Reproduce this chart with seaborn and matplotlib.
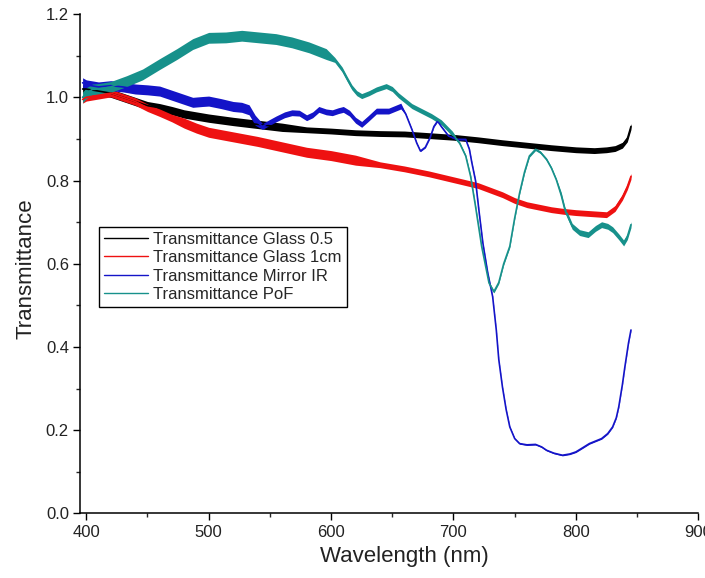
import numpy as np
import pandas as pd
import matplotlib
matplotlib.use("Agg")
import matplotlib.pyplot as plt
from matplotlib.lines import Line2D
from matplotlib.ticker import MultipleLocator
import seaborn as sns

sns.set_style("ticks")
plt.rcParams['font.family'] = ['Liberation Sans', 'DejaVu Sans']

labels = ['Transmittance Glass 0.5', 'Transmittance Glass 1cm',
          'Transmittance Mirror IR', 'Transmittance PoF']
colors = ['#000000', '#ee1111', '#1414c8', '#17918b']

# Glass 0.5 (black)
wl_glass05 = [397, 400, 410, 420, 430, 440, 450, 460, 470, 480, 490, 500, 520, 540,
              560, 580, 600, 620, 640, 660, 680, 700, 720, 740, 760, 780, 800, 815,
              825, 832, 838, 842, 845]
t_glass05 = [1.02, 1.02, 1.015, 1.01, 1.0, 0.99, 0.98, 0.975, 0.968, 0.96, 0.955, 0.95,
             0.942, 0.935, 0.928, 0.922, 0.919, 0.915, 0.913, 0.912, 0.908, 0.904, 0.898,
             0.891, 0.885, 0.879, 0.874, 0.872, 0.874, 0.877, 0.885, 0.9, 0.93]

# Glass 1cm (red)
wl_glass1 = [397, 400, 410, 420, 430, 440, 450, 460, 470, 480, 490, 500, 520, 540,
             560, 580, 600, 620, 640, 660, 680, 700, 720, 740, 750, 760, 780, 790, 800,
             815, 825, 832, 838, 842, 845]
t_glass1 = [0.995, 1.0, 1.005, 1.01, 1.0, 0.99, 0.975, 0.963, 0.95, 0.938, 0.926, 0.916,
            0.905, 0.894, 0.881, 0.868, 0.86, 0.849, 0.838, 0.828, 0.816, 0.802, 0.788,
            0.766, 0.752, 0.742, 0.73, 0.726, 0.723, 0.72, 0.718, 0.733, 0.76, 0.785, 0.81]

# Mirror IR (blue)
wl_mirror = [397, 400, 410, 420, 430, 440, 450, 460, 470, 480, 487, 495, 500, 510, 520,
             527, 533, 538, 544, 550, 555, 562, 568, 574, 580, 585, 590, 596, 601, 606,
             610, 615, 620, 625, 630, 637, 647, 652, 657, 661, 666, 670, 673, 677, 681,
             684, 687, 690, 696, 703, 710, 713, 715, 718, 721, 724, 728, 732, 735, 737,
             740, 743, 746, 750, 754, 760, 767, 772, 776, 782, 789, 795, 800, 805, 811,
             816, 821, 826, 830, 833, 835, 838, 840, 843, 845]
t_mirror = [1.035, 1.03, 1.025, 1.028, 1.025, 1.02, 1.018, 1.015, 1.005, 0.995, 0.988,
            0.99, 0.991, 0.985, 0.978, 0.976, 0.97, 0.945, 0.93, 0.94, 0.948, 0.958, 0.963,
            0.962, 0.951, 0.958, 0.971, 0.965, 0.963, 0.968, 0.971, 0.962, 0.945, 0.935,
            0.948, 0.967, 0.967, 0.973, 0.979, 0.96, 0.923, 0.89, 0.871, 0.88, 0.904, 0.93,
            0.943, 0.93, 0.907, 0.899, 0.899, 0.875, 0.843, 0.8, 0.723, 0.65, 0.578, 0.521,
            0.44, 0.37, 0.304, 0.25, 0.208, 0.18, 0.168, 0.165, 0.166, 0.16, 0.152, 0.145,
            0.14, 0.143, 0.148, 0.157, 0.168, 0.174, 0.18, 0.192, 0.208, 0.23, 0.256, 0.31,
            0.352, 0.41, 0.441]

# PoF (teal)
wl_pof = [397, 400, 405, 410, 420, 433, 446, 460, 474, 487, 500, 514, 527, 541, 555, 568,
          582, 596, 603, 609, 613, 617, 621, 625, 631, 637, 645, 650, 655, 666, 682, 690,
          699, 705, 710, 714, 718, 723, 729, 733, 737, 741, 746, 750, 754, 758, 762, 767,
          771, 776, 780, 784, 788, 791, 797, 803, 810, 816, 821, 826, 830, 835, 839, 842,
          845]
t_pof = [1.0, 1.01, 1.019, 1.02, 1.025, 1.039, 1.055, 1.08, 1.104, 1.128, 1.143, 1.144,
         1.148, 1.144, 1.14, 1.132, 1.12, 1.104, 1.09, 1.067, 1.045, 1.024, 1.01, 1.003,
         1.01, 1.019, 1.027, 1.02, 1.005, 0.979, 0.955, 0.94, 0.913, 0.89, 0.859, 0.81,
         0.738, 0.642, 0.554, 0.533, 0.555, 0.6, 0.642, 0.71, 0.77, 0.82, 0.859, 0.875,
         0.868, 0.851, 0.83, 0.802, 0.765, 0.73, 0.69, 0.675, 0.67, 0.685, 0.694, 0.69,
         0.682, 0.665, 0.65, 0.665, 0.694]

# half width of the noise band, per wavelength range (range end, half width)
noise = {
    labels[0]: [(560, 0.01), (900, 0.007)],
    labels[1]: [(470, 0.009), (620, 0.012), (900, 0.007)],
    labels[2]: [(540, 0.012), (660, 0.007), (900, 0.0015)],
    labels[3]: [(600, 0.013), (700, 0.006), (785, 0.003), (900, 0.007)],
}

series = [(labels[0], wl_glass05, t_glass05), (labels[1], wl_glass1, t_glass1),
          (labels[2], wl_mirror, t_mirror), (labels[3], wl_pof, t_pof)]

rows = []
for name, wl, vals in series:
    for w, v in zip(wl, vals):
        hw = next(h for end, h in noise[name] if w <= end)
        rows.append((name, w, v - hw))
        rows.append((name, w, v + hw))
df = pd.DataFrame(rows, columns=['series', 'wavelength', 'T'])

fig = plt.figure(figsize=(7.05, 5.78), dpi=100)
ax = fig.add_axes([0.1135, 0.1116, 0.877, 0.864])

sns.lineplot(data=df, x='wavelength', y='T', hue='series', hue_order=labels,
             palette=dict(zip(labels, colors)), estimator='mean',
             errorbar=('pi', 100), err_kws={'alpha': 1, 'linewidth': 0},
             linewidth=1.2, legend=False, ax=ax)

ax.set_xlim(394.9, 900)
ax.set_ylim(0, 1.2)
ax.set_xticks([400, 500, 600, 700, 800, 900])
ax.xaxis.set_minor_locator(MultipleLocator(50))
ax.yaxis.set_major_locator(MultipleLocator(0.2))
ax.yaxis.set_minor_locator(MultipleLocator(0.1))
ax.tick_params(which='major', direction='out', length=5, width=1, labelsize=12,
               pad=3, colors='black', labelcolor='#222222')
ax.tick_params(which='minor', direction='out', length=3, width=1)
sns.despine(ax=ax)
for s in ['left', 'bottom']:
    ax.spines[s].set_linewidth(1.1)
    ax.spines[s].set_color('black')

ax.set_xlabel('Wavelength (nm)', fontsize=16, color='#222222')
ax.set_ylabel('Transmittance', fontsize=16, color='#222222')
ax.xaxis.set_label_coords(0.524, -0.066)
ax.yaxis.set_label_coords(-0.07, 0.49)

handles = [Line2D([], [], color=c, lw=1) for c in colors]
leg = ax.legend(handles, labels, loc='upper left', bbox_to_anchor=(0.031, 0.574),
                borderaxespad=0, fontsize=12, handlelength=2.6, handletextpad=0.35,
                labelspacing=0.2, borderpad=0.3, frameon=True, fancybox=False,
                framealpha=1, edgecolor='black')
leg.get_frame().set_linewidth(1.0)

fig.savefig('out.png', dpi=100)
